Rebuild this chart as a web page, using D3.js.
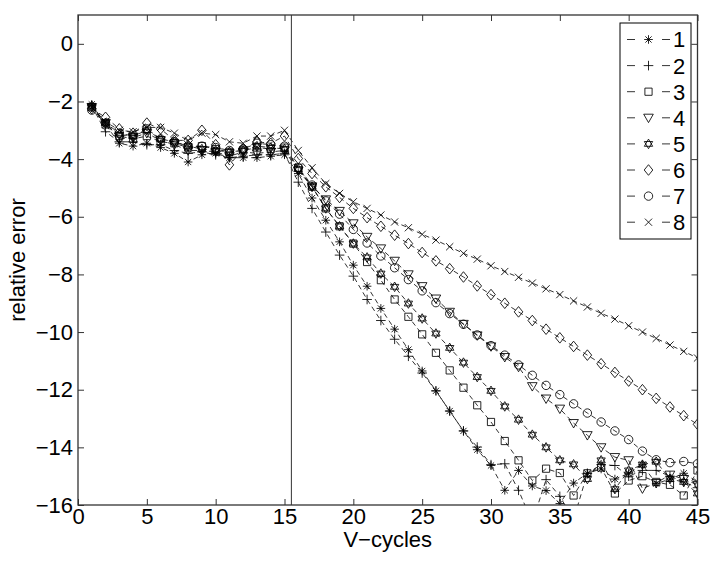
<!DOCTYPE html>
<html>
<head>
<meta charset="utf-8">
<script src="https://cdn.jsdelivr.net/npm/d3@7"></script>
<style>
html,body{margin:0;padding:0;background:#fff;}
svg{display:block;}
text{font-family:"Liberation Sans",Arial,Helvetica,sans-serif;fill:#000;}
</style>
</head>
<body>
<svg id="chart" width="716" height="561"></svg>
<script>
const cycles = [1,2,3,4,5,6,7,8,9,10,11,12,13,14,15,16,17,18,19,20,21,22,23,24,25,26,27,28,29,30,31,32,33,34,35,36,37,38,39,40,41,42,43,44,45];
const seriesNames = ["1","2","3","4","5","6","7","8"];
const markerTypes = ["asterisk","plus","square","triangleDown","hexagram","diamond","circle","cross"];

const s1 = [-2.1,-2.8,-3.45,-3.55,-3.45,-3.6,-3.8,-4.1,-3.85,-3.8,-3.95,-3.95,-3.95,-3.9,-3.85,-4.5,
  -5.35,-6.12,-6.87,-7.68,-8.41,-9.18,-9.9,-10.61,-11.35,-12.04,-12.74,-13.43,-14.08,
  -14.63,-15.49,-14.8,-15.34,-15.5,-15.95,-15.24,-14.9,-14.75,-15.1,-14.9,-14.6,-15.26,-15.1,-14.9,-15.2];
const s2 = [-2.15,-3.05,-3.4,-3.4,-3.5,-3.5,-3.7,-3.8,-3.75,-3.85,-3.95,-3.9,-3.85,-3.85,-3.8,-4.8,
  -5.71,-6.53,-7.33,-8.06,-8.87,-9.6,-10.25,-10.84,-11.42,-12.04,-12.74,-13.43,-13.99,
  -14.6,-14.57,-15.49,-16.6,-15.12,-15.7,-16.5,-14.9,-14.6,-14.63,-15.0,-14.8,-14.8,-15.0,-15.2,-15.4];
const s3 = [-2.2,-2.8,-3.2,-3.3,-3.2,-3.4,-3.45,-3.6,-3.55,-3.65,-3.75,-3.7,-3.6,-3.65,-3.6,-4.3,
  -4.96,-5.71,-6.33,-6.93,-7.57,-8.2,-8.87,-9.47,-10.08,-10.72,-11.33,-11.93,-12.54,
  -13.12,-13.78,-14.45,-15.15,-14.74,-14.89,-15.67,-14.9,-14.7,-15.6,-15.15,-15.0,-15.2,-15.3,-15.67,-14.8];
const s4 = [-2.2,-2.75,-3.3,-3.25,-3.1,-3.35,-3.5,-3.7,-3.7,-3.75,-3.9,-3.75,-3.8,-3.75,-3.7,-4.4,
  -4.95,-5.4,-5.8,-6.23,-6.7,-7.1,-7.53,-8.0,-8.41,-8.84,-9.3,-9.72,-10.12,
  -10.5,-10.87,-11.21,-11.88,-12.31,-12.66,-13.16,-13.58,-14.0,-14.34,-14.45,-15.43,-15.24,-14.95,-15.1,-15.3];
const s5 = [-2.15,-2.75,-3.15,-3.2,-3.0,-3.3,-3.4,-3.55,-3.65,-3.7,-3.75,-3.7,-3.55,-3.6,-3.65,-4.35,
  -4.96,-5.71,-6.33,-6.93,-7.41,-7.97,-8.43,-9.01,-9.53,-10.05,-10.55,-11.06,-11.56,
  -12.04,-12.58,-13.04,-13.56,-14.0,-14.45,-14.59,-15.1,-14.45,-15.45,-14.8,-14.6,-14.5,-15.1,-15.2,-15.6];
const s6 = [-2.25,-2.55,-2.95,-3.1,-2.75,-2.95,-3.35,-3.35,-3.0,-3.5,-4.2,-3.65,-3.4,-3.45,-3.2,-3.98,
  -4.5,-4.96,-5.33,-5.71,-6.03,-6.33,-6.64,-6.93,-7.24,-7.53,-7.8,-8.09,-8.4,
  -8.7,-9.0,-9.3,-9.6,-9.9,-10.2,-10.5,-10.8,-11.1,-11.4,-11.7,-12.0,-12.3,-12.6,-12.9,-13.2];
const s7 = [-2.3,-2.75,-3.1,-3.2,-2.95,-3.3,-3.4,-3.55,-3.55,-3.6,-3.7,-3.65,-3.45,-3.5,-3.55,-4.3,
  -4.9,-5.45,-5.91,-6.44,-6.91,-7.36,-7.77,-8.18,-8.57,-8.98,-9.36,-9.73,-10.1,
  -10.47,-10.8,-11.14,-11.5,-11.85,-12.17,-12.49,-12.81,-13.12,-13.43,-13.73,-14.13,-14.43,-14.53,-14.49,-14.57];
const s8 = [-2.2,-2.7,-3.0,-3.05,-2.9,-2.9,-3.1,-3.35,-3.1,-3.15,-3.4,-3.45,-3.2,-3.2,-3.0,-3.7,
  -4.3,-4.85,-5.19,-5.48,-5.71,-5.94,-6.18,-6.38,-6.61,-6.81,-7.04,-7.27,-7.47,
  -7.7,-7.9,-8.1,-8.3,-8.5,-8.7,-8.92,-9.13,-9.35,-9.55,-9.78,-10.0,-10.22,-10.45,-10.67,-10.9];
const seriesValues = [s1,s2,s3,s4,s5,s6,s7,s8];

const xTicks = [0,5,10,15,20,25,30,35,40,45];
const yTicks = [0,-2,-4,-6,-8,-10,-12,-14,-16];
const switchCycle = 15.5;
const xLabel = "V\u2212cycles";
const yLabel = "relative error";

const L = 78, R = 697.5, T = 15, B = 505;
const svg = d3.select("#chart");
const x = d3.scaleLinear().domain([0,45]).range([L,R]);
const y = d3.scaleLinear().domain([-16,1]).range([B,T]);
const fmt = v => (v < 0 ? "\u2212" + Math.abs(v) : String(v));

svg.append("defs").append("clipPath").attr("id","plotclip")
  .append("rect").attr("x",L).attr("y",T).attr("width",R-L).attr("height",B-T);

function markerPath(type){
  const p = d3.path();
  switch(type){
    case "asterisk": {
      const r = 4.3, d = r*0.72;
      p.moveTo(-r,0); p.lineTo(r,0);
      p.moveTo(0,-r); p.lineTo(0,r);
      p.moveTo(-d,-d); p.lineTo(d,d);
      p.moveTo(-d,d); p.lineTo(d,-d);
      break;
    }
    case "plus": {
      const r = 4.8;
      p.moveTo(-r,0); p.lineTo(r,0);
      p.moveTo(0,-r); p.lineTo(0,r);
      break;
    }
    case "square": {
      const r = 3.6;
      p.rect(-r,-r,2*r,2*r);
      break;
    }
    case "triangleDown": {
      const r = 4.8;
      p.moveTo(-r,-r*0.75); p.lineTo(r,-r*0.75); p.lineTo(0,r); p.closePath();
      break;
    }
    case "hexagram": {
      const r = 4.8;
      for (const off of [-Math.PI/2, Math.PI/2]){
        for (let k=0;k<3;k++){
          const a = off + k*2*Math.PI/3;
          const px = r*Math.cos(a), py = r*Math.sin(a);
          if (k===0) p.moveTo(px,py); else p.lineTo(px,py);
        }
        p.closePath();
      }
      break;
    }
    case "diamond": {
      const w = 4.3, h = 5.3;
      p.moveTo(0,-h); p.lineTo(w,0); p.lineTo(0,h); p.lineTo(-w,0); p.closePath();
      break;
    }
    case "circle": {
      const r = 4.2;
      p.moveTo(r,0); p.arc(0,0,r,0,2*Math.PI);
      break;
    }
    case "cross": {
      const r = 3.6;
      p.moveTo(-r,-r); p.lineTo(r,r);
      p.moveTo(-r,r); p.lineTo(r,-r);
      break;
    }
  }
  return p.toString();
}

const axisColor = "#333";
const plot = svg.append("g").attr("clip-path","url(#plotclip)");

svg.append("line")
  .attr("x1",x(switchCycle)).attr("x2",x(switchCycle))
  .attr("y1",T).attr("y2",B)
  .attr("stroke","#333").attr("stroke-width",1);

const line = d3.line().x((d,i)=>x(cycles[i])).y(d=>y(d));
seriesValues.forEach((vals,si)=>{
  plot.append("path")
    .attr("d", line(vals))
    .attr("fill","none")
    .attr("stroke","#000")
    .attr("stroke-width",0.8)
    .attr("stroke-dasharray","5,3.5");
  const mp = markerPath(markerTypes[si]);
  plot.append("g").selectAll("path").data(vals).join("path")
    .attr("transform",(d,i)=>`translate(${x(cycles[i])},${y(d)})`)
    .attr("d", mp)
    .attr("fill","none")
    .attr("stroke","#000")
    .attr("stroke-width",0.85);
});

const xAxisB = d3.axisBottom(x).tickValues(xTicks).tickSize(-6).tickPadding(3).tickFormat(fmt);
const xAxisT = d3.axisTop(x).tickValues(xTicks).tickSize(-6).tickFormat("");
const yAxisL = d3.axisLeft(y).tickValues(yTicks).tickSize(-6).tickPadding(5).tickFormat(fmt);
const yAxisR = d3.axisRight(y).tickValues(yTicks).tickSize(-6).tickFormat("");

function styleAxis(g){
  g.select(".domain").remove();
  g.selectAll(".tick line").attr("stroke",axisColor).attr("stroke-width",1);
  g.selectAll(".tick text").attr("font-size",22).attr("fill","#000")
    .attr("font-family","'Liberation Sans',Arial,sans-serif");
}
svg.append("g").attr("transform",`translate(0,${B})`).call(xAxisB).call(styleAxis);
svg.append("g").attr("transform",`translate(0,${T})`).call(xAxisT).call(styleAxis);
svg.append("g").attr("transform",`translate(${L},0)`).call(yAxisL).call(styleAxis);
svg.append("g").attr("transform",`translate(${R},0)`).call(yAxisR).call(styleAxis);

svg.append("rect").attr("x",L).attr("y",T).attr("width",R-L).attr("height",B-T)
  .attr("fill","none").attr("stroke",axisColor).attr("stroke-width",1.3);

svg.append("text").attr("x",(L+R)/2).attr("y",547).attr("text-anchor","middle")
  .attr("font-size",22).text(xLabel);
svg.append("text").attr("transform",`translate(25,${(T+B)/2}) rotate(-90)`)
  .attr("text-anchor","middle").attr("font-size",22).text(yLabel);

const lg = svg.append("g");
const lgX = 620, lgY = 23, lgW = 71, lgH = 216, rowH = 26.1, firstRow = 39.5;
lg.append("rect").attr("x",lgX).attr("y",lgY).attr("width",lgW).attr("height",lgH)
  .attr("fill","#fff").attr("stroke","#000").attr("stroke-width",1);
seriesNames.forEach((name,i)=>{
  const cy = firstRow + i*rowH;
  lg.append("line").attr("x1",627).attr("x2",635).attr("y1",cy).attr("y2",cy)
    .attr("stroke","#000").attr("stroke-width",0.8);
  lg.append("line").attr("x1",662).attr("x2",670).attr("y1",cy).attr("y2",cy)
    .attr("stroke","#000").attr("stroke-width",0.8);
  lg.append("path").attr("transform",`translate(648.5,${cy})`).attr("d",markerPath(markerTypes[i]))
    .attr("fill","none").attr("stroke","#000").attr("stroke-width",0.85);
  lg.append("text").attr("x",673).attr("y",cy).attr("dy","0.36em")
    .attr("font-size",22).text(name);
});
</script>
</body>
</html>
